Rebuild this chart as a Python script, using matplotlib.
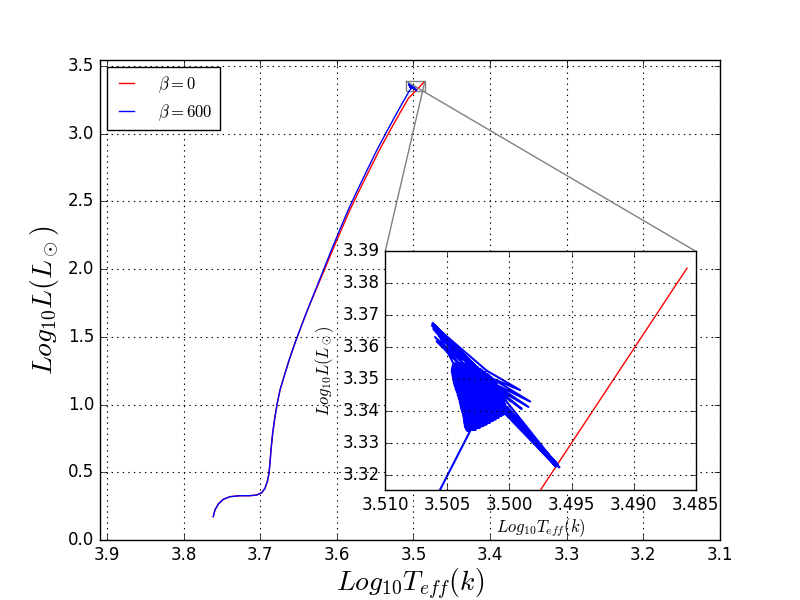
import matplotlib
matplotlib.use("Agg")
import matplotlib.pyplot as plt
from mpl_toolkits.axes_grid1.inset_locator import mark_inset

plt.style.use("classic")
plt.rcParams["mathtext.fontset"] = "cm"
plt.rcParams["font.family"] = ["DejaVu Sans"]

# ---- data: beta = 0 track (log Teff, log L)
teff_b0 = [3.7612, 3.7590, 3.7546, 3.7481, 3.7394, 3.7263, 3.7133, 3.7045, 3.6980,
           3.6937, 3.6907, 3.6885, 3.6872, 3.6859, 3.6837, 3.6807, 3.6777, 3.6741,
           3.6689, 3.6622, 3.6547, 3.6458, 3.6382, 3.6291, 3.6163, 3.6054, 3.5942,
           3.5829, 3.5704, 3.5574, 3.5444, 3.5313, 3.5179, 3.5066, 3.5001, 3.4975,
           3.4857]
lum_b0 = [0.172, 0.2216, 0.2659, 0.3006, 0.3198, 0.3272, 0.3272, 0.3323, 0.3493,
          0.3818, 0.4306, 0.4926, 0.5665, 0.6647, 0.788, 0.9106, 1.0096, 1.1078,
          1.2061, 1.3294, 1.4527, 1.5879, 1.700, 1.822, 1.994, 2.142, 2.290,
          2.437, 2.585, 2.733, 2.880, 3.016, 3.151, 3.262, 3.300, 3.3154,
          3.3847]

# ---- data: beta = 600 track (log Teff, log L), incl. the oscillating phase
teff_b600 = [3.7612, 3.7590, 3.7546, 3.7481, 3.7394, 3.7263, 3.7133, 3.7045, 3.6980,
             3.6937, 3.6907, 3.6885, 3.6872, 3.6859, 3.6837, 3.6807, 3.6777, 3.6741,
             3.6689, 3.6622, 3.6547, 3.6458, 3.6382, 3.6296, 3.6175, 3.6070, 3.5962,
             3.5852, 3.5730, 3.5604, 3.5477, 3.5349, 3.5219, 3.5110, 3.5056, 3.50317,
             3.50344, 3.50269, 3.50352, 3.50237, 3.50358, 3.50210, 3.50360, 3.50183,
             3.50363, 3.50156, 3.50366, 3.50134, 3.50366, 3.50110, 3.50368, 3.50086,
             3.50371, 3.50065, 3.50374, 3.50043, 3.50376, 3.50030, 3.50382, 3.50019,
             3.50384, 3.50019, 3.50390, 3.50024, 3.50392, 3.50030, 3.50395, 3.50032,
             3.50398, 3.50040, 3.50401, 3.50046, 3.50403, 3.50051, 3.50409, 3.50054,
             3.50411, 3.50056, 3.50417, 3.50062, 3.50419, 3.50067, 3.50425, 3.50073,
             3.50430, 3.50081, 3.50435, 3.50086, 3.50438, 3.50094, 3.50444, 3.50100,
             3.50446, 3.50108, 3.50449, 3.50118, 3.50452, 3.50132, 3.50454, 3.50145,
             3.50457, 3.50159, 3.50460, 3.50175, 3.50462, 3.50194, 3.50465, 3.50215,
             3.50465, 3.50234, 3.50462, 3.50253, 3.50460, 3.50277, 3.50457, 3.50296,
             3.50452,
             3.50618, 3.50304, 3.50624, 3.50331, 3.50613, 3.50358, 3.50599, 3.50384,
             3.50586, 3.50290, 3.50608, 3.50263, 3.50621, 3.50183,
             3.49914, 3.50142, 3.49833, 3.50129, 3.49847, 3.50102, 3.49901, 3.50075,
             3.49605, 3.50035, 3.49618, 3.50048, 3.49597, 3.50016, 3.49632, 3.50062,
             3.49613, 3.50008, 3.49645, 3.50027, 3.49624, 3.50035]
lum_b600 = [0.172, 0.2216, 0.2659, 0.3006, 0.3198, 0.3272, 0.3272, 0.3323, 0.3493,
            0.3818, 0.4306, 0.4926, 0.5665, 0.6647, 0.788, 0.9106, 1.0096, 1.1078,
            1.2061, 1.3294, 1.4527, 1.5879, 1.700, 1.822, 1.994, 2.142, 2.290,
            2.437, 2.585, 2.733, 2.880, 3.016, 3.151, 3.262, 3.3154, 3.33381,
            3.33402, 3.33433, 3.33454, 3.33486, 3.33507, 3.33538, 3.33559, 3.33591,
            3.33612, 3.33643, 3.33664, 3.33696, 3.33717, 3.33748, 3.33769, 3.33801,
            3.33822, 3.33853, 3.33874, 3.33905, 3.33926, 3.33958, 3.33979, 3.34010,
            3.34031, 3.34063, 3.34084, 3.34115, 3.34136, 3.34168, 3.34189, 3.34220,
            3.34241, 3.34273, 3.34294, 3.34325, 3.34346, 3.34378, 3.34399, 3.34430,
            3.34451, 3.34482, 3.34503, 3.34535, 3.34556, 3.34587, 3.34608, 3.34640,
            3.34661, 3.34692, 3.34713, 3.34745, 3.34766, 3.34797, 3.34818, 3.34850,
            3.34871, 3.34902, 3.34923, 3.34954, 3.34975, 3.35007, 3.35028, 3.35059,
            3.35080, 3.35112, 3.35133, 3.35164, 3.35185, 3.35217, 3.35238, 3.35269,
            3.35290, 3.35322, 3.35343, 3.35374, 3.35395, 3.35426, 3.35447, 3.35479,
            3.35500,
            3.36759, 3.35521, 3.36675, 3.35479, 3.36570, 3.35437, 3.36318, 3.35395,
            3.36182, 3.35395, 3.36706, 3.35374, 3.36727, 3.35269,
            3.34661, 3.35028, 3.34304, 3.34871, 3.34136, 3.34713, 3.34073, 3.34556,
            3.32269, 3.34115, 3.32374, 3.34010, 3.32248, 3.34136, 3.32300, 3.34031,
            3.32332, 3.34052, 3.32437, 3.33979, 3.32269, 3.34073]

labels = [r"$\beta=0$", r"$\beta=600$"]
main_xticks = [3.9, 3.8, 3.7, 3.6, 3.5, 3.4, 3.3, 3.2, 3.1]
main_yticks = [0.0, 0.5, 1.0, 1.5, 2.0, 2.5, 3.0, 3.5]
inset_xticks = [3.510, 3.505, 3.500, 3.495, 3.490, 3.485]
inset_yticks = [3.32, 3.33, 3.34, 3.35, 3.36, 3.37, 3.38, 3.39]

fig = plt.figure(figsize=(8, 6), dpi=100, facecolor="white")
ax = fig.add_axes([0.125, 0.1, 0.775, 0.8])
ax.plot(teff_b0, lum_b0, color="r", lw=1.0, label=labels[0])
ax.plot(teff_b600, lum_b600, color="b", lw=1.0, label=labels[1])
ax.set_xlim(3.909, 3.1)
ax.set_ylim(0.0, 3.545)
ax.set_xticks(main_xticks)
ax.set_yticks(main_yticks)
ax.set_xticklabels(["%.1f" % v for v in main_xticks])
ax.set_yticklabels(["%.1f" % v for v in main_yticks])
ax.grid(True, color="k", linestyle=":", linewidth=0.8)
ax.set_xlabel(r"$Log_{10}T_{eff}(k)$", fontsize=20, labelpad=2)
ax.set_ylabel(r"$Log_{10}L(L_\odot)$", fontsize=20)
leg = ax.legend(loc="upper left", fontsize=12, handlelength=1.5,
                handletextpad=1.15, borderpad=0.45, labelspacing=0.45,
                fancybox=False, borderaxespad=0.4)
leg.get_frame().set_linewidth(1.0)

axins = fig.add_axes([0.4816, 0.1833, 0.388, 0.398])
axins.plot(teff_b0, lum_b0, color="r", lw=1.0)
axins.plot(teff_b600, lum_b600, color="b", lw=1.5)
axins.set_xlim(3.510, 3.485)
axins.set_ylim(3.3154, 3.39)
axins.set_xticks(inset_xticks)
axins.set_yticks(inset_yticks)
axins.set_xticklabels(["%.3f" % v for v in inset_xticks])
axins.set_yticklabels(["%.2f" % v for v in inset_yticks])
axins.grid(True, color="k", linestyle=":", linewidth=0.8)
axins.set_xlabel(r"$Log_{10}T_{eff}(k)$", fontsize=12, labelpad=2)
axins.set_ylabel(r"$Log_{10}L(L_\odot)$", fontsize=12)

mark_inset(ax, axins, loc1=1, loc2=2, fc="none", ec="0.5", lw=1.0)

fig.savefig("out.png", dpi=100, facecolor="white")
